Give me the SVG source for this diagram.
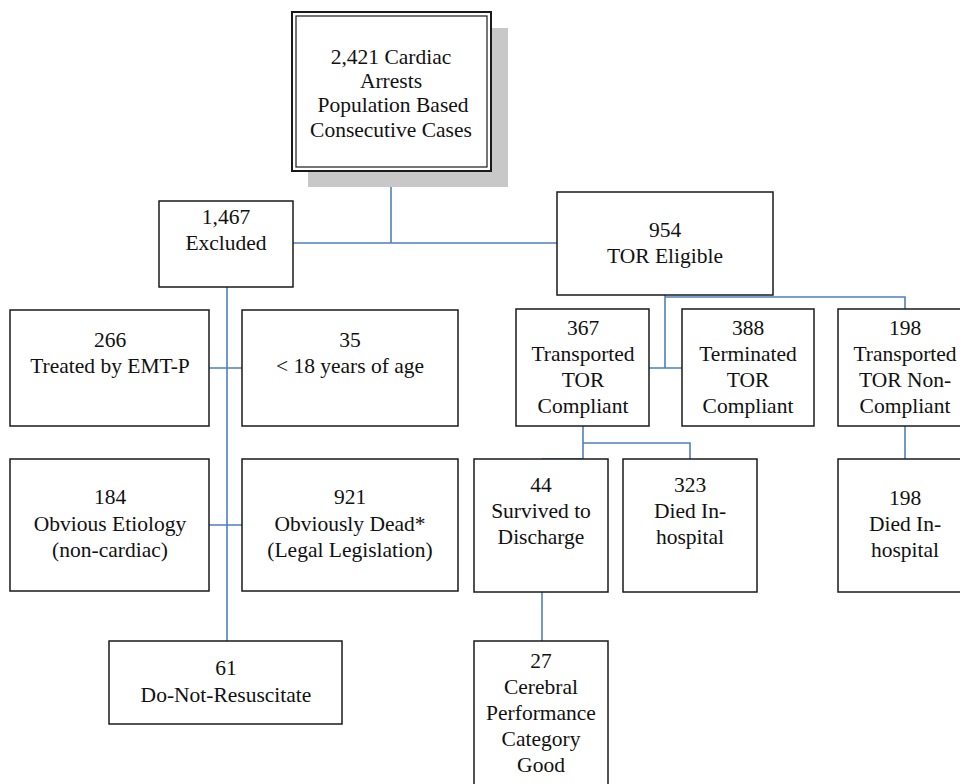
<svg xmlns="http://www.w3.org/2000/svg" width="960" height="784" viewBox="0 0 960 784">
<style>
.box{fill:#fff;stroke:#1a1a1a;stroke-width:1.5}
.t{font-family:'Liberation Serif',Tinos,'Times New Roman','Noto Serif','DejaVu Serif',serif;font-size:21.5px;fill:#111;text-anchor:middle}
.c{fill:none;stroke:#4f7fc0;stroke-width:1.6}
</style>
<rect width="960" height="784" fill="#fff"/>
<g id="connectors">
<path class="c" d="M391,172 V243 M293,243 H557"/>
<path class="c" d="M665,295 V368 M649,368 H682 M665,297 H905 V309"/>
<path class="c" d="M583,426 V459 H542 M583,443 H690 V459"/>
<path class="c" d="M905,426 V459"/>
<path class="c" d="M542,592 V641"/>
<path class="c" d="M227,287 V641 M209,368 H242 M209,525 H242"/>
</g>
<g id="n-total">
<rect x="308" y="28" width="200" height="159" fill="#c8c8c8"/>
<rect x="292" y="12" width="199" height="159" fill="#fff" stroke="#1a1a1a" stroke-width="2"/>
<rect x="296" y="16" width="191" height="151" fill="none" stroke="#1a1a1a" stroke-width="1.2"/>
<text class="t" x="391" y="64">2,421 Cardiac</text>
<text class="t" x="391" y="88">Arrests</text>
<text class="t" x="393" y="112">Population Based</text>
<text class="t" x="391" y="137">Consecutive Cases</text>
</g>
<g id="n-excluded">
<rect class="box" x="159" y="201" width="134" height="86"/>
<text class="t" x="226" y="224">1,467</text>
<text class="t" x="226" y="250">Excluded</text>
</g>
<g id="n-eligible">
<rect class="box" x="557" y="192" width="216" height="103"/>
<text class="t" x="665" y="237">954</text>
<text class="t" x="665" y="263">TOR Eligible</text>
</g>
<g id="n-emtp">
<rect class="box" x="10" y="310" width="199" height="116"/>
<text class="t" x="110" y="347">266</text>
<text class="t" x="110" y="373">Treated by EMT-P</text>
</g>
<g id="n-age">
<rect class="box" x="242" y="310" width="216" height="116"/>
<text class="t" x="350" y="347">35</text>
<text class="t" x="350" y="373">&lt; 18 years of age</text>
</g>
<g id="n-etiology">
<rect class="box" x="10" y="459" width="199" height="132"/>
<text class="t" x="110" y="504">184</text>
<text class="t" x="110" y="531">Obvious Etiology</text>
<text class="t" x="110" y="557">(non-cardiac)</text>
</g>
<g id="n-dead">
<rect class="box" x="242" y="459" width="216" height="132"/>
<text class="t" x="350" y="504">921</text>
<text class="t" x="350" y="531">Obviously Dead*</text>
<text class="t" x="350" y="557">(Legal Legislation)</text>
</g>
<g id="n-dnr">
<rect class="box" x="109" y="641" width="233" height="83"/>
<text class="t" x="226" y="675">61</text>
<text class="t" x="226" y="702">Do-Not-Resuscitate</text>
</g>
<g id="n-transported">
<rect class="box" x="516" y="309" width="133" height="117"/>
<text class="t" x="583" y="335">367</text>
<text class="t" x="583" y="361">Transported</text>
<text class="t" x="583" y="387">TOR</text>
<text class="t" x="583" y="413">Compliant</text>
</g>
<g id="n-terminated">
<rect class="box" x="682" y="309" width="132" height="117"/>
<text class="t" x="748" y="335">388</text>
<text class="t" x="748" y="361">Terminated</text>
<text class="t" x="748" y="387">TOR</text>
<text class="t" x="748" y="413">Compliant</text>
</g>
<g id="n-noncompliant">
<rect class="box" x="838" y="309" width="134" height="117"/>
<text class="t" x="905" y="335">198</text>
<text class="t" x="905" y="361">Transported</text>
<text class="t" x="905" y="387">TOR Non-</text>
<text class="t" x="905" y="413">Compliant</text>
</g>
<g id="n-survived">
<rect class="box" x="474" y="459" width="134" height="133"/>
<text class="t" x="541" y="492">44</text>
<text class="t" x="541" y="518">Survived to</text>
<text class="t" x="541" y="544">Discharge</text>
</g>
<g id="n-died1">
<rect class="box" x="623" y="459" width="134" height="133"/>
<text class="t" x="690" y="492">323</text>
<text class="t" x="690" y="518">Died In-</text>
<text class="t" x="690" y="544">hospital</text>
</g>
<g id="n-died2">
<rect class="box" x="838" y="459" width="134" height="133"/>
<text class="t" x="905" y="505">198</text>
<text class="t" x="905" y="531">Died In-</text>
<text class="t" x="905" y="557">hospital</text>
</g>
<g id="n-cpc">
<rect class="box" x="474" y="641" width="134" height="160"/>
<text class="t" x="541" y="668">27</text>
<text class="t" x="541" y="694">Cerebral</text>
<text class="t" x="541" y="720">Performance</text>
<text class="t" x="541" y="746">Category</text>
<text class="t" x="541" y="772">Good</text>
</g>
</svg>
